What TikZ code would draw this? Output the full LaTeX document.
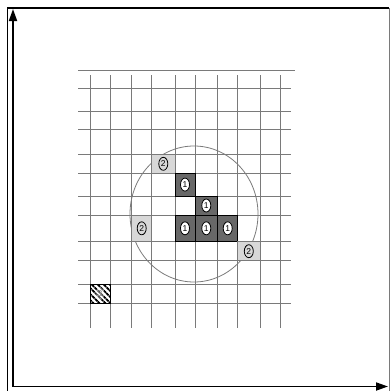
\documentclass[tikz,border=0pt]{standalone}
\usepackage{fontspec}
\setmainfont{Liberation Sans}
\usetikzlibrary{shapes.geometric,patterns.meta,arrows.meta}
\definecolor{darkfill}{HTML}{686868}
\definecolor{lightfill}{HTML}{D8D8D8}
\definecolor{gridgray}{HTML}{7A7A7A}
\begin{document}
\begin{tikzpicture}[x=1pt,y=-1pt,
  gridline/.style={draw=gridgray, line width=0.9pt},
  darkcell/.style={draw=black, fill=darkfill, line width=1pt},
  lightcell/.style={draw=gridgray, fill=lightfill, line width=1pt},
  hatchcell/.style={draw=black, line width=0.6pt, pattern={Lines[angle=-45, distance=4pt, line width=2pt]}},
  digit/.style={ellipse, draw=black, line width=0.8pt, inner sep=0pt, minimum width=9pt, minimum height=13pt, font=\fontsize{8.5}{8.5}\selectfont},
  darkdigit/.style={digit, fill=white},
  lightdigit/.style={digit, fill=lightfill},
  hatchdigit/.style={digit, draw=none, fill=white, fill opacity=0.35, text opacity=1, text=gray},
  axis/.style={draw=black, line width=1.8pt, -{Triangle[length=12pt,width=8pt]}}
]
\useasboundingbox (0,0) rectangle (390,391);
% frame
\draw[black, line width=1.6pt] (7.5,391) -- (7.5,8) -- (389,8);
\draw[gridgray, line width=1pt] (389,8) -- (389,391);
% axes
\coordinate (o) at (13,386.5);
\coordinate (ytip) at (13,9);
\coordinate (xtip) at (388,386.5);
\draw[axis] (o) -- (ytip);
\draw[axis] (o) -- (xtip);
% grid
\draw[gridline] (78,70) -- (295,70);
\foreach \y in {88.3,111,129.3,154.3,173.3,196,215,241.7,260.7,284.3,303.3}
  \draw[gridline] (78,\y) -- (291,\y);
\foreach \x in {90.7,110,131.7,151.7,175,195,217.7,237.7,260,280.7}
  \draw[gridline] (\x,75) -- (\x,328);
% circle
\draw[gridgray, line width=0.8pt] (194,214) ellipse [x radius=64, y radius=68];
% cells
\draw[lightcell] (151.7,154.3) rectangle (175,173.3);
\node[lightdigit] (a) at (163.3,163.8) {2};
\draw[darkcell] (175,173.3) rectangle (195,196);
\node[darkdigit] (b) at (185,184.6) {1};
\draw[darkcell] (195,196) rectangle (217.7,215);
\node[darkdigit] (c) at (206.3,205.5) {1};
\draw[darkcell] (175,215) rectangle (195,241.7);
\node[darkdigit] (d) at (185,228.3) {1};
\draw[darkcell] (195,215) rectangle (217.7,241.7);
\node[darkdigit] (e) at (206.3,228.3) {1};
\draw[darkcell] (217.7,215) rectangle (237.7,241.7);
\node[darkdigit] (f) at (227.7,228.3) {1};
\draw[lightcell] (131.7,215) rectangle (151.7,241.7);
\node[lightdigit] (g) at (141.7,228.3) {2};
\draw[lightcell] (237.7,241.7) rectangle (260,260.7);
\node[lightdigit] (h) at (248.8,251.2) {2};
\draw[hatchcell] (90,284.3) rectangle (110,303.3);
\node[hatchdigit] (k) at (100,293.8) {3};
\end{tikzpicture}
\end{document}
